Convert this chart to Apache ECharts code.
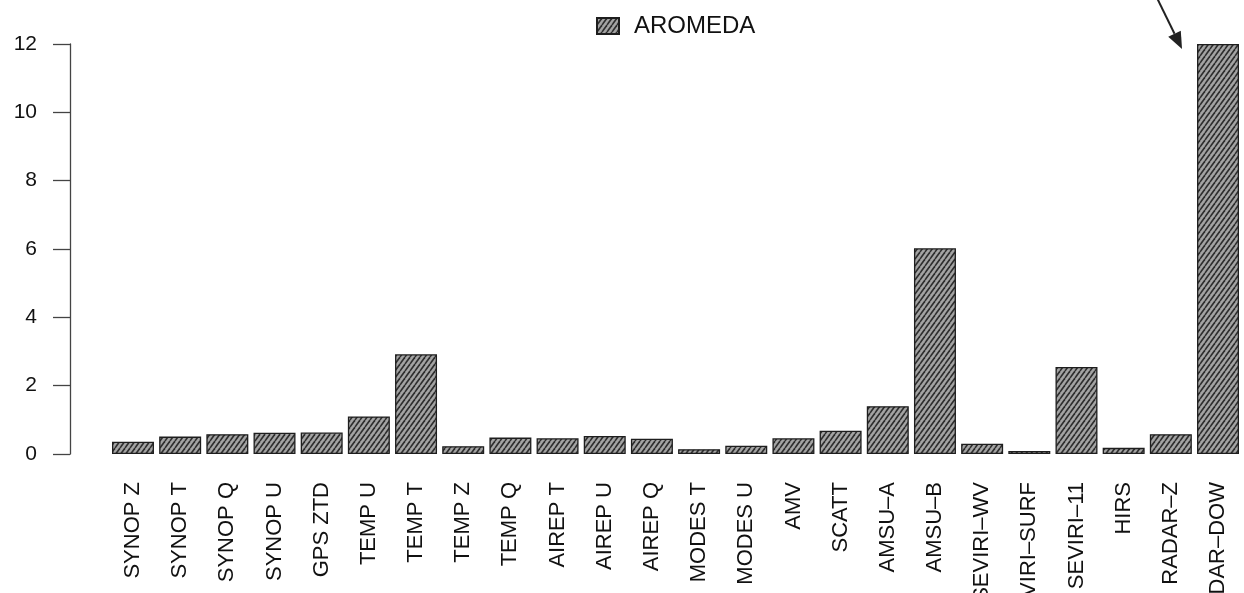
<!DOCTYPE html>
<html>
<head>
<meta charset="utf-8">
<script src="https://cdn.jsdelivr.net/npm/echarts@6/dist/echarts.min.js"></script>
<style>
  html, body { margin: 0; padding: 0; background: #fff; }
  #chart { width: 1244px; height: 593px; }
</style>
</head>
<body>
<div id="chart"></div>
<script>
// Observation types
const categories = [
  'SYNOP Z', 'SYNOP T', 'SYNOP Q', 'SYNOP U', 'GPS ZTD', 'TEMP U', 'TEMP T', 'TEMP Z',
  'TEMP Q', 'AIREP T', 'AIREP U', 'AIREP Q', 'MODES T', 'MODES U', 'AMV', 'SCATT',
  'AMSU–A', 'AMSU–B', 'SEVIRI–WV', 'SEVIRI–SURF', 'SEVIRI–11', 'HIRS', 'RADAR–Z', 'RADAR–DOW'
];
// AROMEDA values per observation type
const aromeda = [
  0.36, 0.51, 0.58, 0.62, 0.63, 1.10, 2.92, 0.23,
  0.48, 0.46, 0.53, 0.45, 0.14, 0.24, 0.46, 0.68,
  1.40, 6.02, 0.30, 0.09, 2.55, 0.18, 0.58, 12.0
];
const yTicks = [0, 2, 4, 6, 8, 10, 12];

const FONT = '"Liberation Sans", Arial, sans-serif';

// diagonal hatching fill
function hatch() {
  const w = 5, h = 7;
  const c = document.createElement('canvas');
  c.width = w; c.height = h;
  const g = c.getContext('2d');
  g.fillStyle = '#a4a4a4';
  g.fillRect(0, 0, w, h);
  g.strokeStyle = '#2e2e2e';
  g.lineWidth = 1.6;
  for (const dx of [-w, 0, w]) {
    g.beginPath();
    g.moveTo(dx, h);
    g.lineTo(dx + w, 0);
    g.stroke();
  }
  return c;
}
const fill = { image: hatch(), repeat: 'repeat' };

const chart = echarts.init(document.getElementById('chart'), null, { renderer: 'canvas' });

chart.setOption({
  animation: false,
  backgroundColor: '#ffffff',
  legend: {
    data: ['AROMEDA'],
    left: 591,
    top: 9,
    itemWidth: 22,
    itemHeight: 16,
    icon: 'rect',
    textStyle: { fontFamily: FONT, fontSize: 24, color: '#111', padding: [0, 0, 0, 10] }
  },
  grid: { left: 109.4, right: 2.4, top: 44, bottom: 139, outerBoundsMode: 'none', containLabel: false },
  xAxis: {
    type: 'category',
    data: categories,
    axisLine: { show: false },
    axisTick: { show: false },
    axisLabel: {
      rotate: 90,
      interval: 0,
      margin: 28,
      fontFamily: FONT,
      fontSize: 22,
      color: '#111'
    }
  },
  yAxis: {
    type: 'value',
    min: 0,
    max: 12,
    interval: 2,
    offset: 39.4,
    splitLine: { show: false },
    axisLine: { show: true, lineStyle: { color: '#444', width: 1.3 } },
    axisTick: { show: true, length: 17, lineStyle: { color: '#444', width: 1.3 } },
    axisLabel: {
      margin: 33,
      fontFamily: FONT,
      fontSize: 21,
      color: '#111',
      formatter: v => (yTicks.includes(v) ? String(v) : '')
    }
  },
  series: [{
    name: 'AROMEDA',
    type: 'bar',
    data: aromeda,
    barCategoryGap: '11%',
    itemStyle: { color: fill, borderColor: '#1e1e1e', borderWidth: 1.3 }
  }]
});

// arrow pointing at the last (largest) bar
(function drawArrow() {
  const last = categories.length - 1;
  const top = chart.convertToPixel({ xAxisIndex: 0, yAxisIndex: 0 }, [last, aromeda[last]]);
  const tip = [top[0] - 36, top[1] + 5];
  const tail = [top[0] - 61, top[1] - 46];
  const ang = Math.atan2(tip[1] - tail[1], tip[0] - tail[0]);
  const len = 17, half = 7;
  const bx = tip[0] - len * Math.cos(ang), by = tip[1] - len * Math.sin(ang);
  const px = -Math.sin(ang) * half, py = Math.cos(ang) * half;
  chart.setOption({
    graphic: [
      {
        type: 'line',
        shape: { x1: tail[0], y1: tail[1], x2: bx, y2: by },
        style: { stroke: '#222', lineWidth: 2 }
      },
      {
        type: 'polygon',
        shape: { points: [tip, [bx + px, by + py], [bx - px, by - py]] },
        style: { fill: '#222' }
      }
    ]
  });
})();
</script>
</body>
</html>
